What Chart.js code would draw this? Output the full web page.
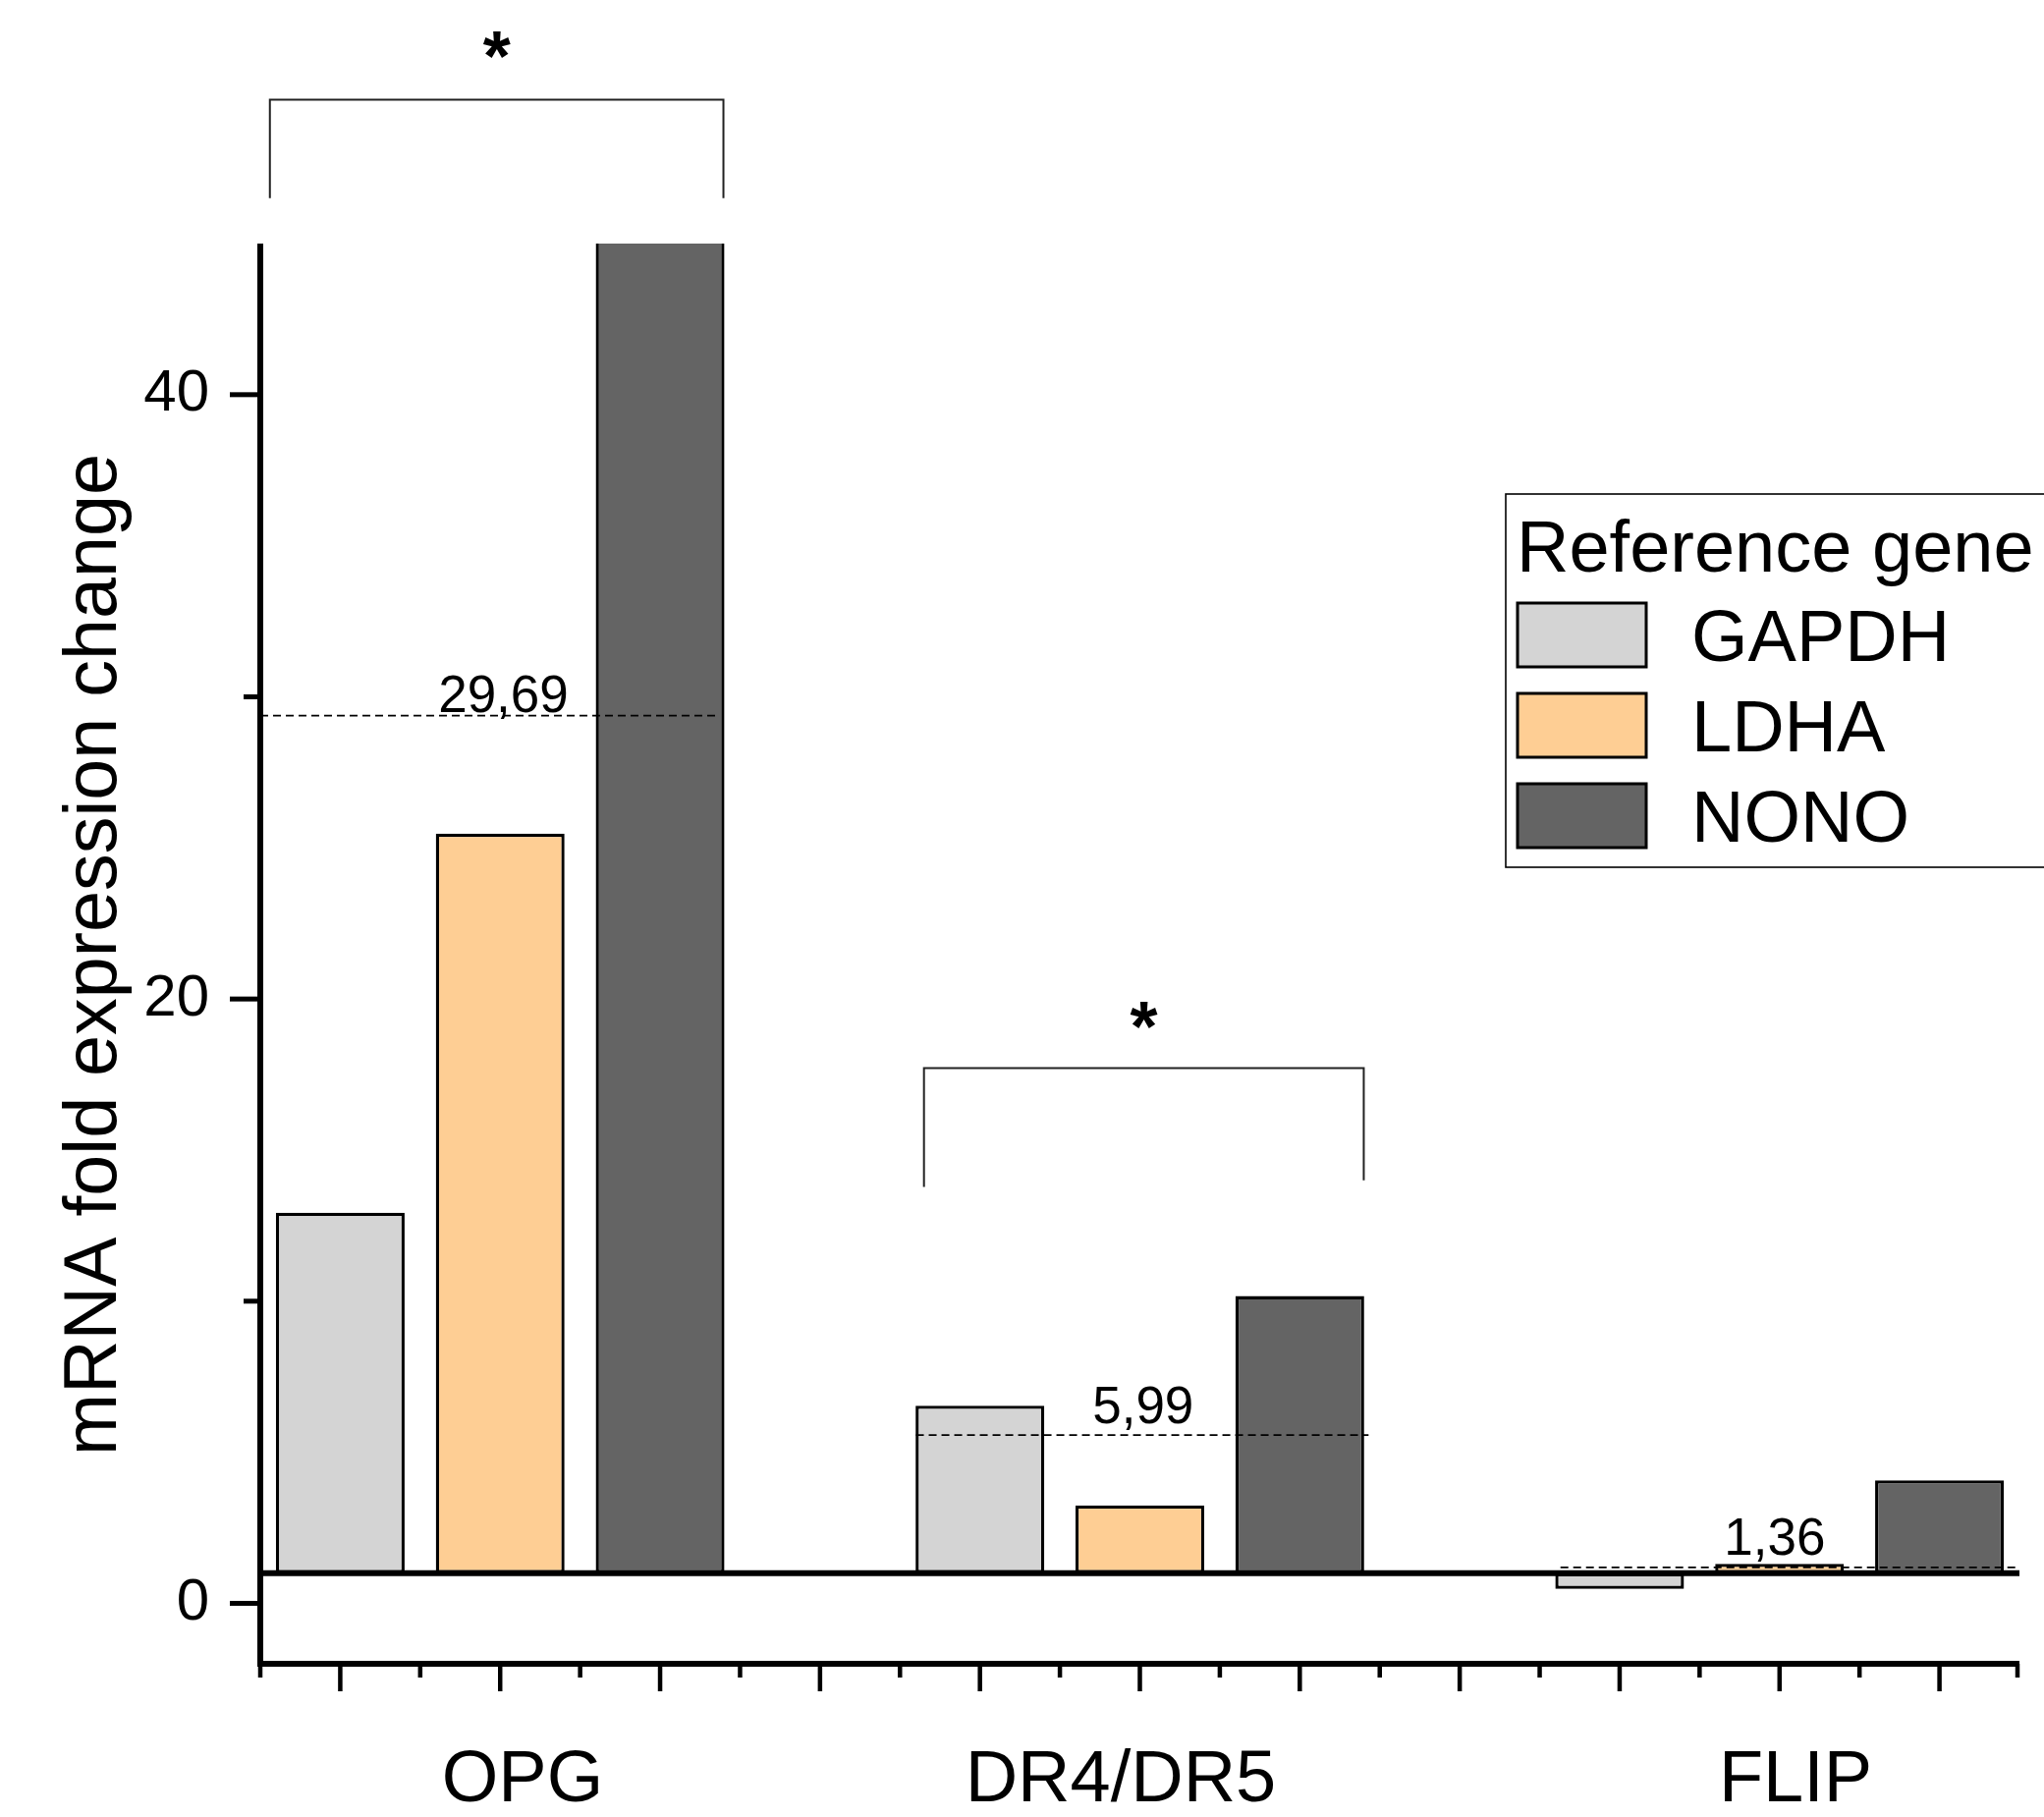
<!DOCTYPE html>
<html>
<head>
<meta charset="utf-8">
<script src="https://cdn.jsdelivr.net/npm/chart.js@4/dist/chart.umd.min.js"></script>
<style>
html,body{margin:0;padding:0;background:#fff;overflow:hidden}
#wrap{width:2081px;height:1850px;position:relative}
</style>
</head>
<body>
<div id="wrap"><canvas id="c" width="2081" height="1850"></canvas></div>
<script>
// ---------------- data ----------------
const categories = ['OPG', 'DR4/DR5', 'FLIP'];
const seriesNames = ['GAPDH', 'LDHA', 'NONO'];
const gapdh = [12.93, 6.54, 0.48];
const ldha  = [25.47, 3.24, 1.31];
const nono  = [79.4, 10.17, 4.07];          // OPG/NONO runs past the top of the axis
const meanLabels = ['29,69', '5,99', '1,36'];
const meanLevels = [29.38, 5.57, 1.19];     // where the dashed lines sit in the picture
const yTickValues = [0, 10, 20, 30, 40];
const yTickLabels = ['0', '', '20', '', '40'];
const baselineValue = 1;
const axisTitle = 'mRNA fold expression change';
const legendTitle = 'Reference gene';
const significance = ['*', '*'];

// ---------------- layout / style ----------------
const FONT = '"Liberation Sans", Arial, Helvetica, sans-serif';
const colors = ['#d4d4d4', '#fece94', '#646464'];
const groupStart = [1, 5, 9];                       // slot of first bar in each group
const categoryLabelX = [2.14, 5.88, 10.1];
const meanSpans = [[0.5, 3.35], [4.6, 7.43], [8.63, 11.5]];
const meanLabelX = [2.02, 6.02, 9.97];
const meanLabelY = [29.48, 5.95, 1.62];
const brackets = [
  {x1: 0.56, x2: 3.396, top: 49.76, b1: 46.5, b2: 46.5, starY: 51.6},
  {x1: 4.65, x2: 7.40, top: 17.71, b1: 13.78, b2: 14.0, starY: 19.5}
];

const datasets = [gapdh, ldha, nono].map((vals, s) => ({
  label: seriesNames[s],
  data: vals.map((v, g) => ({x: groupStart[g] + s, y: v})),
  backgroundColor: colors[s],
  borderColor: '#000',
  borderWidth: 3.3,
  borderSkipped: false,
  base: baselineValue,
  grouped: false,
  categoryPercentage: 0.805,
  barPercentage: 1,
  clip: 0
}));

const decor = {
  id: 'decor',
  afterDatasetsDraw(chart) {
    const ctx = chart.ctx;
    const xs = chart.scales.x, ys = chart.scales.y;
    const X = v => xs.getPixelForValue(v);
    const Y = v => ys.getPixelForValue(v);
    const ca = chart.chartArea;
    ctx.save();
    ctx.strokeStyle = '#000';
    ctx.fillStyle = '#000';

    // baseline at fold change = 1
    ctx.lineWidth = 6;
    ctx.beginPath();
    ctx.moveTo(ca.left - 3, Y(baselineValue));
    ctx.lineTo(ca.right, Y(baselineValue));
    ctx.stroke();

    // mean dashed lines + labels
    ctx.lineWidth = 1.7;
    ctx.setLineDash([8, 5]);
    meanSpans.forEach((sp, i) => {
      ctx.beginPath();
      ctx.moveTo(X(sp[0]), Y(meanLevels[i]));
      ctx.lineTo(X(sp[1]), Y(meanLevels[i]));
      ctx.stroke();
    });
    ctx.setLineDash([]);
    ctx.font = '53px ' + FONT;
    ctx.textAlign = 'center';
    ctx.textBaseline = 'alphabetic';
    meanLabels.forEach((t, i) => ctx.fillText(t, X(meanLabelX[i]), Y(meanLabelY[i])));

    // axes lines
    ctx.lineWidth = 6;
    ctx.beginPath();
    ctx.moveTo(ca.left, ca.top);
    ctx.lineTo(ca.left, ca.bottom + 3);
    ctx.moveTo(ca.left - 3, ca.bottom);
    ctx.lineTo(ca.right, ca.bottom);
    ctx.stroke();

    // y ticks
    ctx.lineWidth = 5;
    yTickValues.forEach((v, i) => {
      const len = yTickLabels[i] ? 29 : 15;
      ctx.beginPath();
      ctx.moveTo(ca.left - 2 - len, Y(v));
      ctx.lineTo(ca.left, Y(v));
      ctx.stroke();
    });
    // x ticks: major on integers, minor on halves
    ctx.lineWidth = 4.5;
    for (let v = xs.min; v <= xs.max + 1e-9; v += 0.5) {
      const major = Math.abs(v - Math.round(v)) < 1e-9;
      const px = Math.max(Math.min(X(v), ca.right - 2), ca.left);
      ctx.beginPath();
      ctx.moveTo(px, ca.bottom);
      ctx.lineTo(px, ca.bottom + 3 + (major ? 25 : 11));
      ctx.stroke();
    }

    // category labels
    ctx.font = '74px ' + FONT;
    ctx.textAlign = 'center';
    categories.forEach((c, i) => ctx.fillText(c, X(categoryLabelX[i]), 1834));

    // y title
    ctx.save();
    ctx.translate(118, 972);
    ctx.rotate(-Math.PI / 2);
    ctx.font = '75.5px ' + FONT;
    ctx.textAlign = 'center';
    ctx.fillText(axisTitle, 0, 0);
    ctx.restore();

    // significance brackets
    ctx.lineWidth = 2;
    ctx.strokeStyle = '#222';
    brackets.forEach((b, i) => {
      ctx.beginPath();
      ctx.moveTo(X(b.x1), Y(b.b1));
      ctx.lineTo(X(b.x1), Y(b.top));
      ctx.lineTo(X(b.x2), Y(b.top));
      ctx.lineTo(X(b.x2), Y(b.b2));
      ctx.stroke();
      ctx.font = 'bold 72px ' + FONT;
      ctx.textAlign = 'center';
      ctx.fillText(significance[i], (X(b.x1) + X(b.x2)) / 2, Y(b.starY) + 0.52 * 72);
    });

    // legend
    ctx.strokeStyle = '#000';
    ctx.lineWidth = 1.6;
    ctx.strokeRect(1533, 503, 700, 380);
    ctx.font = '74px ' + FONT;
    ctx.textAlign = 'left';
    ctx.fillText(legendTitle, 1544, 582);
    chart.data.datasets.forEach((ds, i) => {
      const top = 614 + i * 92;
      ctx.fillStyle = ds.backgroundColor;
      ctx.fillRect(1545, top, 131, 65);
      ctx.lineWidth = 3;
      ctx.strokeRect(1545, top, 131, 65);
      ctx.fillStyle = '#000';
      ctx.fillText(ds.label, 1722, top + 59);
    });
    ctx.restore();
  }
};

new Chart(document.getElementById('c'), {
  type: 'bar',
  data: {datasets},
  options: {
    responsive: false,
    animation: false,
    devicePixelRatio: 1,
    layout: {padding: {top: 248, right: 25, bottom: 0, left: 0}},
    plugins: {legend: {display: false}, tooltip: {enabled: false}},
    scales: {
      x: {
        type: 'linear', min: 0.5, max: 11.5, offset: false,
        afterBuildTicks: s => { const t = []; for (let v = 1; v <= 11; v++) t.push({value: v}); s.ticks = t; },
        ticks: {display: false},
        grid: {display: false, drawTicks: false, offset: false},
        border: {display: false},
        afterFit: s => { s.height = 156; }
      },
      y: {
        type: 'linear', min: -2, max: 45,
        afterBuildTicks: s => { s.ticks = yTickValues.map(v => ({value: v})); },
        ticks: {
          callback: (v) => { const i = yTickValues.indexOf(v); return i >= 0 ? yTickLabels[i] : ''; },
          font: {size: 60, family: FONT},
          color: '#000',
          padding: 52
        },
        grid: {display: false, drawTicks: false},
        border: {display: false},
        afterFit: s => { s.width = 265; }
      }
    }
  },
  plugins: [decor]
});
</script>
</body>
</html>
